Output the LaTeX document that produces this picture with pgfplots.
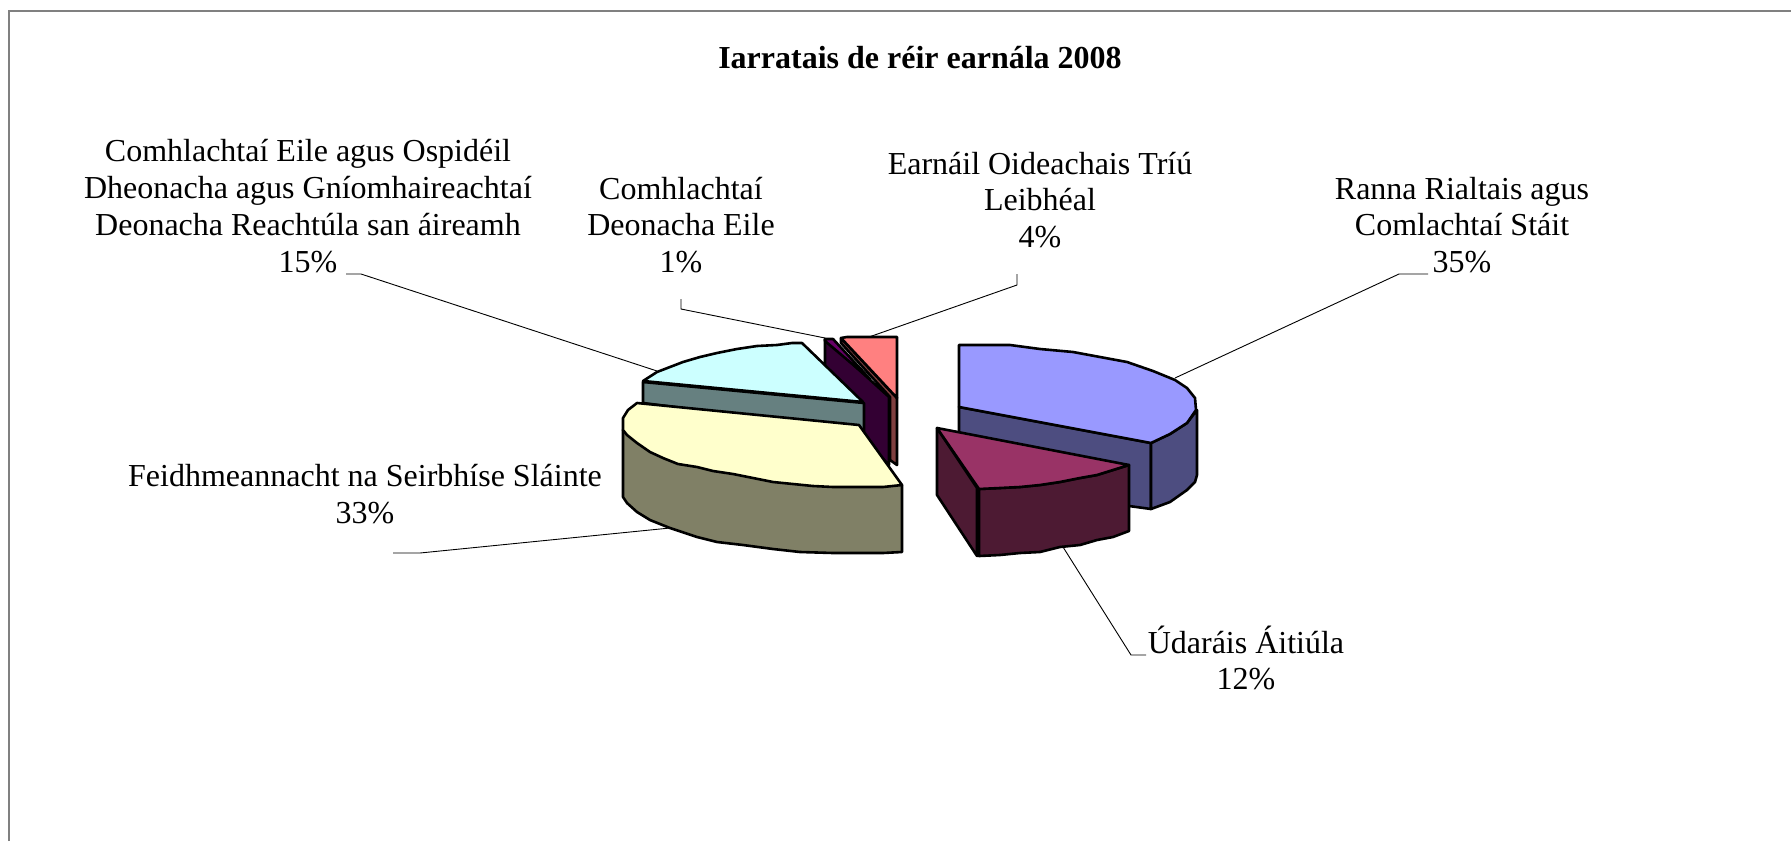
\documentclass[border=0pt]{standalone}
\usepackage{pgfplots}
\pgfplotsset{compat=1.18}
\usepackage{fontspec}
\setmainfont{Liberation Serif}
\definecolor{blueT}{HTML}{9999FF}\definecolor{blueS}{HTML}{4D4D80}
\definecolor{redT}{HTML}{993366}\definecolor{redS}{HTML}{4D1A33}
\definecolor{yelT}{HTML}{FFFFCC}\definecolor{yelS}{HTML}{808066}
\definecolor{cyaT}{HTML}{CCFFFF}\definecolor{cyaS}{HTML}{668080}
\definecolor{purT}{HTML}{660066}\definecolor{purS}{HTML}{330033}
\definecolor{pinT}{HTML}{FF8080}\definecolor{pinS}{HTML}{804040}
\tikzset{
  face/.style={draw=black,line width=2.6pt,line join=round},
  lead/.style={draw=black,line width=0.9pt},
  lab/.style={align=center,font=\fontsize{32}{36.8}\selectfont,inner sep=0pt}}
\begin{document}
\begin{tikzpicture}
\path[use as bounding box,fill=white] (0,0) rectangle (1791pt,841pt);
\begin{axis}[at={(0,0)},anchor=south west,scale only axis,width=1791pt,height=841pt,
  xmin=0,xmax=1791,ymin=0,ymax=841,y dir=reverse,axis lines=none]
% frame
\addplot[draw=gray,line width=2pt] coordinates {(9,841) (9,11) (1791,11)};
% leaders
\addplot[lead] coordinates {(1175,378) (1399,274) (1428,274)};
\addplot[lead] coordinates {(1063,547) (1131,655) (1146,655)};
\addplot[lead] coordinates {(393,553) (420,553) (670,528)};
\addplot[lead] coordinates {(346,274) (361,274) (657,371)};
\addplot[lead] coordinates {(681,299) (681,309) (825,338)};
\addplot[lead] coordinates {(1017,274) (1017,285) (869,337)};
% 4% pink
\addplot[face,fill=pinS] coordinates {(841,338) (897,398) (897,465) (890,460) (890,397) (841,343)} -- cycle;
\addplot[face,fill=pinT] coordinates {(841,338) (847,337) (897,337) (897,398)} -- cycle;
% 1% purple
\addplot[face,fill=purS] coordinates {(825,339) (889,397) (889,465) (825,400)} -- cycle;
\addplot[face,fill=purT] coordinates {(825,339) (833,339) (870,379) (825,341)} -- cycle;
% 15% cyan
\addplot[face,fill=cyaS] coordinates {(643,382) (864,403) (864,431) (643,403)} -- cycle;
\addplot[face,fill=cyaT] coordinates {(643,381) (657,372) (670,367) (683,362) (700,357) (717,353) (737,349) (757,346) (777,345) (792,343) (802,343) (863,402)} -- cycle;
% 33% yellow
\addplot[face,fill=yelS] coordinates {(623,430) (623,497) (627,503) (637,512) (650,520) (670,528) (697,537) (717,542) (743,545) (773,549) (800,552) (833,553) (883,553) (902,552) (902,485)} -- cycle;
\addplot[face,fill=yelT] coordinates {(637,403) (859,425) (902,485) (883,487) (860,487) (833,487) (813,486) (793,484) (773,482) (753,478) (733,474) (713,471) (697,467) (678,464) (663,458) (650,452) (637,443) (627,435) (623,430) (623,418) (628,410)} -- cycle;
% 35% blue
\addplot[face,fill=blueS] coordinates {(959,407) (1151,443) (1151,509) (1129,506) (959,450)} -- cycle;
\addplot[face,fill=blueS] coordinates {(1151,443) (1170,434) (1187,423) (1197,410) (1197,475) (1195,482) (1187,490) (1170,502) (1151,509)} -- cycle;
\addplot[face,fill=blueT] coordinates {(959,345) (1010,345) (1040,349) (1073,352) (1100,357) (1127,362) (1153,371) (1175,380) (1187,388) (1195,398) (1196,410) (1187,423) (1170,434) (1151,443) (959,407)} -- cycle;
% 12% red
\addplot[face,fill=redS] coordinates {(937,428) (977,488) (977,556) (937,495)} -- cycle;
\addplot[face,fill=redS] coordinates {(979,489) (1000,488) (1020,487) (1040,485) (1060,482) (1080,478) (1097,475) (1113,470) (1129,465) (1129,531) (1113,537) (1097,540) (1080,545) (1060,547) (1040,552) (1020,553) (1000,555) (979,556)} -- cycle;
\addplot[face,fill=redT] coordinates {(937,428) (1129,465) (1113,470) (1097,475) (1080,478) (1060,482) (1040,485) (1020,487) (1000,488) (979,489)} -- cycle;
% text
\node[lab,font=\fontsize{32}{36.8}\selectfont\bfseries] at (axis cs:920,58) {Iarratais de réir earnála 2008};
\node[lab] at (axis cs:308,206) {Comhlachtaí Eile agus Ospidéil\\Dheonacha agus Gníomhaireachtaí\\Deonacha Reachtúla san áireamh\\15\%};
\node[lab] at (axis cs:681,225) {Comhlachtaí\\Deonacha Eile\\1\%};
\node[lab] at (axis cs:1040,200) {Earnáil Oideachais Tríú\\Leibhéal\\4\%};
\node[lab] at (axis cs:1462,225) {Ranna Rialtais agus\\Comlachtaí Stáit\\35\%};
\node[lab] at (axis cs:365,494) {Feidhmeannacht na Seirbhíse Sláinte\\33\%};
\node[lab] at (axis cs:1246,658) {Údaráis Áitiúla\\12\%};
\end{axis}
\end{tikzpicture}
\end{document}
